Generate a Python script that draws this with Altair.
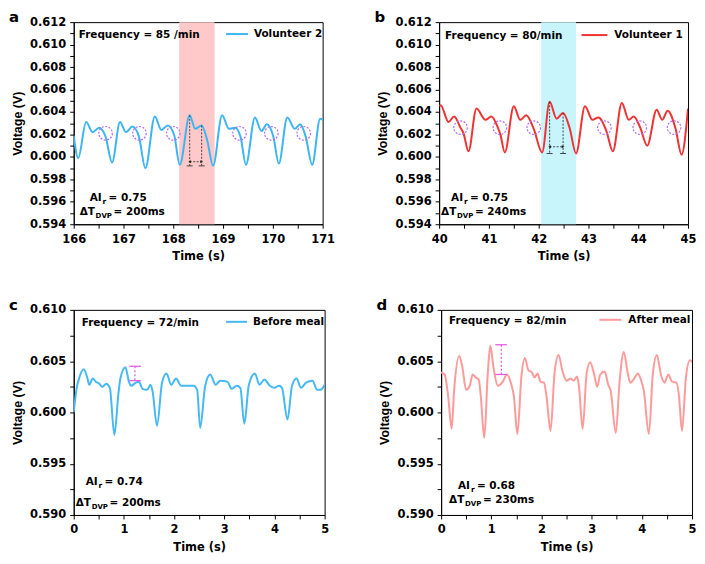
import altair as alt
import pandas as pd

FONT = "DejaVu Sans"
YFONT = "Liberation Sans"

# ---------------- data ----------------
a_t = [166.00, 166.09, 166.25, 166.38, 166.51, 166.64, 166.77, 166.93, 167.05, 167.18, 167.31, 167.44,
       167.63, 167.76, 167.89, 168.02, 168.13, 168.33, 168.44, 168.57, 168.68, 168.80, 168.98, 169.12,
       169.24, 169.35, 169.46, 169.64, 169.77, 169.88, 170.01, 170.12, 170.29, 170.44, 170.55, 170.66,
       170.79, 170.95, 171.00]
a_v = [0.6019, 0.5999, 0.6031, 0.6022, 0.6026, 0.6018, 0.5995, 0.6031, 0.6022, 0.6027, 0.6018, 0.5990,
       0.6036, 0.6024, 0.6028, 0.6019, 0.5993, 0.6037, 0.6025, 0.6028, 0.6015, 0.5992, 0.6037, 0.6025,
       0.6026, 0.6018, 0.5993, 0.6035, 0.6023, 0.6029, 0.6018, 0.5994, 0.6035, 0.6025, 0.6029, 0.6018,
       0.5993, 0.6034, 0.6033]

b_t = [40.00, 40.03, 40.19, 40.30, 40.43, 40.49, 40.59, 40.75, 40.93, 41.05, 41.18, 41.23, 41.32,
       41.50, 41.63, 41.75, 41.90, 42.07, 42.22, 42.36, 42.49, 42.62, 42.75, 42.93, 43.08, 43.20, 43.36,
       43.49, 43.67, 43.81, 43.91, 44.04, 44.18, 44.37, 44.48, 44.59, 44.75, 44.87, 45.00]
b_v = [0.6045, 0.6046, 0.6031, 0.6036, 0.6026, 0.6021, 0.6005, 0.6043, 0.6033, 0.6036, 0.6026, 0.6020,
       0.6004, 0.6045, 0.6033, 0.6037, 0.6025, 0.6004, 0.6049, 0.6034, 0.6039, 0.6026, 0.6003, 0.6045,
       0.6033, 0.6035, 0.6023, 0.6005, 0.6048, 0.6033, 0.6036, 0.6026, 0.6010, 0.6042, 0.6033, 0.6041,
       0.6025, 0.6002, 0.6043]

c_t = [0.00, 0.06, 0.10, 0.20, 0.27, 0.31, 0.38, 0.44, 0.51, 0.57, 0.65, 0.72, 0.81, 0.89, 0.93, 1.03,
       1.10, 1.14, 1.24, 1.30, 1.37, 1.46, 1.53, 1.57, 1.66, 1.76, 1.85, 1.94, 2.04, 2.14, 2.23, 2.39,
       2.46, 2.52, 2.62, 2.72, 2.83, 2.92, 3.06, 3.15, 3.25, 3.32, 3.40, 3.49, 3.61, 3.70, 3.80, 3.91,
       4.00, 4.09, 4.15, 4.26, 4.35, 4.44, 4.53, 4.63, 4.76, 4.85, 4.92, 5.00]
c_v = [0.6000, 0.6024, 0.6032, 0.6042, 0.6034, 0.6027, 0.6033, 0.6030, 0.6028, 0.6025, 0.6028, 0.6024,
       0.5978, 0.6018, 0.6033, 0.6044, 0.6030, 0.6026, 0.6029, 0.6030, 0.6023, 0.6022, 0.6027, 0.6021,
       0.5987, 0.6029, 0.6038, 0.6027, 0.6033, 0.6026, 0.6026, 0.6026, 0.6022, 0.5985, 0.6026, 0.6037,
       0.6027, 0.6031, 0.6030, 0.6023, 0.6026, 0.6024, 0.5989, 0.6027, 0.6038, 0.6027, 0.6032, 0.6026,
       0.6024, 0.6026, 0.6024, 0.5993, 0.6026, 0.6033, 0.6024, 0.6029, 0.6031, 0.6022, 0.6022, 0.6027]

d_t = [0.00, 0.07, 0.14, 0.21, 0.26, 0.36, 0.42, 0.50, 0.57, 0.63, 0.69, 0.75, 0.79, 0.86, 0.93, 0.98,
       1.04, 1.13, 1.23, 1.31, 1.40, 1.45, 1.52, 1.60, 1.67, 1.74, 1.81, 1.86, 1.92, 1.98, 2.05, 2.10,
       2.18, 2.26, 2.34, 2.42, 2.50, 2.58, 2.64, 2.71, 2.75, 2.82, 2.90, 2.97, 3.05, 3.11, 3.17, 3.26,
       3.33, 3.38, 3.48, 3.56, 3.64, 3.72, 3.77, 3.86, 3.92, 4.00, 4.04, 4.14, 4.22, 4.30, 4.38, 4.45,
       4.53, 4.60, 4.69, 4.74, 4.80, 4.88, 4.96, 5.00]
d_v = [0.6039, 0.6037, 0.6016, 0.5984, 0.6022, 0.6055, 0.6045, 0.6022, 0.6026, 0.6037, 0.6034, 0.6032,
       0.6016, 0.5975, 0.6038, 0.6065, 0.6045, 0.6026, 0.6030, 0.6037, 0.6027, 0.6016, 0.5979, 0.6035,
       0.6053, 0.6041, 0.6039, 0.6034, 0.6038, 0.6030, 0.6029, 0.6016, 0.5982, 0.6038, 0.6056, 0.6040,
       0.6031, 0.6033, 0.6031, 0.6035, 0.6024, 0.5984, 0.6038, 0.6049, 0.6037, 0.6025, 0.6037, 0.6040,
       0.6027, 0.6021, 0.5980, 0.6032, 0.6059, 0.6038, 0.6029, 0.6034, 0.6038, 0.6029, 0.6021, 0.5979,
       0.6038, 0.6056, 0.6037, 0.6029, 0.6037, 0.6030, 0.6029, 0.6016, 0.5982, 0.6035, 0.6051, 0.6049]

# highlighted beat windows
a_band = [168.12, 168.83]
b_band = [42.05, 42.75]
# dashed circles (notch markers)
a_circ_t = [166.64, 167.32, 168.00, 169.33, 169.97, 170.62]
a_circ_v = [0.6021] * 6
b_circ_t = [40.43, 41.22, 41.90, 43.32, 44.03, 44.72]
b_circ_v = [0.6026] * 6
# dotted peak markers: x, top, bottom
a_mark_t = [168.33, 168.57]
a_mark_top = [0.6037, 0.6028]
a_mark_bot = [0.5992, 0.5992]
a_arrow_v = 0.59957
b_mark_t = [42.22, 42.49]
b_mark_top = [0.6049, 0.6039]
b_mark_bot = [0.6003, 0.6003]
b_arrow_v = 0.6009
# magenta amplitude bars: x, x-left, x-right, top, bottom
c_bar = [1.22, 1.11, 1.34, 0.6045, 0.6031]
d_bar = [1.20, 1.08, 1.31, 0.6066, 0.6037]

# ---------------- helpers ----------------
def fmt_axes(xdom, xstep, ydom, ystep, ylabel_mod):
    nx = int(round((xdom[1] - xdom[0]) / xstep))
    ny = int(round((ydom[1] - ydom[0]) / ystep))
    xvals = [xdom[0] + xstep * i for i in range(nx + 1)]
    yvals = [round(ydom[0] + ystep * i, 5) for i in range(ny + 1)]
    common = dict(labelFont=FONT, labelFontWeight="bold", labelFontSize=11.5, labelColor="black",
                  tickColor="black", tickSize=4, domainColor="black", grid=False, labelOverlap=False,
                  titleColor="black", titleFontWeight="bold")
    xaxis = alt.Axis(values=xvals,
                     labelExpr="abs(datum.value - round(datum.value)) < 0.01 ? format(datum.value, 'd') : ''",
                     labelFlush=False, labelPadding=5, title="Time (s)", titleFont=FONT,
                     titleFontSize=11.5, titlePadding=6, **common)
    yaxis = alt.Axis(values=yvals, labelExpr=ylabel_mod, labelPadding=4, title="Voltage (V)",
                     titleFont=YFONT, titleFontSize=12.5, titlePadding=5, **common)
    xs = alt.Scale(domain=xdom, nice=False, zero=False)
    ys = alt.Scale(domain=ydom, nice=False, zero=False)
    return xs, ys, xaxis, yaxis


def txt(s, x, y, size=10.5, align="left", baseline="alphabetic", font=FONT):
    return alt.Chart(pd.DataFrame({"s": [s]})).mark_text(
        font=font, fontSize=size, fontWeight="bold", align=align, baseline=baseline, color="black"
    ).encode(text="s:N", x=alt.value(x), y=alt.value(y))


def ai_block(x1, y1, x2, y2, ai, dt):
    return [
        txt("AI", x1, y1),
        txt("r", x1 + 13, y1 + 3, size=7.5),
        txt("= " + ai, x1 + 19, y1),
        txt("\u0394T", x2, y2),
        txt("DVP", x2 + 16, y2 + 3, size=7),
        txt("= " + dt, x2 + 34, y2),
    ]


def panel(t, v, color, xdom, xstep, ydom, ystep, ylab, W, H, letter, freq, freq_xy,
          leg, leg_xy, ai, dt, ai_pos, band=None, band_color=None, circ=None, marks=None, bar=None):
    xs, ys, xaxis, yaxis = fmt_axes(xdom, xstep, ydom, ystep, ylab)

    def X(f):
        return alt.X(f, type="quantitative", scale=xs, axis=xaxis)

    def Y(f):
        return alt.Y(f, type="quantitative", scale=ys, axis=yaxis)

    layers = []
    if band is not None:
        layers.append(alt.Chart(pd.DataFrame({"x": [band[0]], "x2": [band[1]]}))
                      .mark_rect(color=band_color).encode(x=X("x"), x2="x2"))
    df = pd.DataFrame({"t": t, "v": v})
    layers.append(alt.Chart(df).mark_line(color=color, strokeWidth=2, interpolate="monotone", clip=True)
                  .encode(x=X("t"), y=Y("v")))
    if circ is not None:
        layers.append(alt.Chart(pd.DataFrame({"t": circ[0], "v": circ[1]}))
                      .mark_point(shape="circle", size=185, filled=False, color="#b26ef2",
                                  strokeWidth=1.2, strokeDash=[2, 1.5], opacity=1)
                      .encode(x=X("t"), y=Y("v")))
    if marks is not None:
        mt, mtop, mbot, arrow_v = marks
        mdf = pd.DataFrame({"t": mt, "top": mtop, "bot": mbot})
        layers.append(alt.Chart(mdf).mark_rule(color="#333333", strokeWidth=0.9, strokeDash=[2, 1.5])
                      .encode(x=X("t"), y=Y("top"), y2="bot"))
        adf = pd.DataFrame({"t": [mt[0]], "t2": [mt[1]], "v": [arrow_v]})
        layers.append(alt.Chart(adf).mark_rule(color="#333333", strokeWidth=0.9, strokeDash=[2, 1.5])
                      .encode(x=X("t"), x2="t2", y=Y("v")))
        hdf = pd.DataFrame({"t": [mt[0], mt[1]], "v": [arrow_v, arrow_v],
                            "s": ["triangle-left", "triangle-right"]})
        layers.append(alt.Chart(hdf).mark_point(filled=True, size=10, color="#222222", opacity=1)
                      .encode(x=X("t"), y=Y("v"),
                              shape=alt.Shape("s:N", scale=None, legend=None)))
        cdf = pd.DataFrame({"t": [m - (xdom[1] - xdom[0]) * 0.012 for m in mt],
                            "t2": [m + (xdom[1] - xdom[0]) * 0.012 for m in mt], "v": mbot})
        layers.append(alt.Chart(cdf).mark_rule(color="#333333", strokeWidth=0.9)
                      .encode(x=X("t"), x2="t2", y=Y("v")))
    if bar is not None:
        bx, bl, br, btop, bbot = bar
        layers.append(alt.Chart(pd.DataFrame({"t": [bx], "top": [btop], "bot": [bbot]}))
                      .mark_rule(color="#e45ee4", strokeWidth=1.3, strokeDash=[2, 2])
                      .encode(x=X("t"), y=Y("top"), y2="bot"))
        layers.append(alt.Chart(pd.DataFrame({"t": [bl, bl], "t2": [br, br], "v": [btop, bbot]}))
                      .mark_rule(color="#e45ee4", strokeWidth=1.3)
                      .encode(x=X("t"), x2="t2", y=Y("v")))
    # legend
    lx1, lx2, lt, ly = leg_xy
    layers.append(alt.Chart(pd.DataFrame({"k": [0]})).mark_rule(color=color, strokeWidth=2)
                  .encode(x=alt.value(lx1), x2=alt.value(lx2), y=alt.value(ly)))
    layers.append(txt(leg, lt, ly, baseline="middle"))
    layers.append(txt(freq, freq_xy[0], freq_xy[1]))
    (x1, y1, x2, y2) = ai_pos
    layers += ai_block(x1, H + y1, x2, H + y2, ai, dt)
    layers.append(txt(letter, -65, 0, size=15, baseline="alphabetic"))
    return alt.layer(*layers).properties(width=W, height=H)


ylab_ab = "abs(round(datum.value*1000) % 2) < 0.5 ? format(datum.value, '.3f') : ''"
ylab_cd = "abs(round(datum.value*10000) % 50) < 0.5 ? format(datum.value, '.3f') : ''"

WA, HA = 250, 203
WC, HC = 252, 206

pa = panel(a_t, a_v, "#3db5f2", [166, 171], 0.5, [0.594, 0.612], 0.001, ylab_ab, WA, HA, "a",
           "Frequency = 85 /min", (5, 16), "Volunteer 2", (153, 175, 181, 12), "0.75", "200ms",
           (16, -23, 6, -9), band=a_band, band_color="#ffc9c9",
           circ=(a_circ_t, a_circ_v), marks=(a_mark_t, a_mark_top, a_mark_bot, a_arrow_v))
pb = panel(b_t, b_v, "#f03232", [40, 45], 0.5, [0.594, 0.612], 0.001, ylab_ab, WA, HA, "b",
           "Frequency = 80/min", (6, 17), "Volunteer 1", (143, 169, 176, 13), "0.75", "240ms",
           (12, -23, 2, -9), band=b_band, band_color="#c8f4fc",
           circ=(b_circ_t, b_circ_v), marks=(b_mark_t, b_mark_top, b_mark_bot, b_arrow_v))
pc = panel(c_t, c_v, "#45b8f5", [0, 5], 0.5, [0.590, 0.610], 0.0025, ylab_cd, WC, HC, "c",
           "Frequency = 72/min", (8, 16), "Before meal", (153, 174, 180, 12), "0.74", "200ms",
           (12, -30, 2, -9), bar=c_bar)
pd_ = panel(d_t, d_v, "#ff9a9a", [0, 5], 0.5, [0.590, 0.610], 0.0025, ylab_cd, WC, HC, "d",
            "Frequency = 82/min", (8, 14), "After meal", (159, 181, 188, 10), "0.68", "230ms",
            (17, -26, 8, -12), bar=d_bar)

chart = alt.vconcat(
    alt.hconcat(pa, pb, spacing=38),
    alt.hconcat(pc, pd_, spacing=46),
    spacing=34,
).properties(padding=0, background="white").configure_view(stroke="black", strokeWidth=1)

chart.save("out.html", embed_options={"renderer": "svg", "actions": False})
